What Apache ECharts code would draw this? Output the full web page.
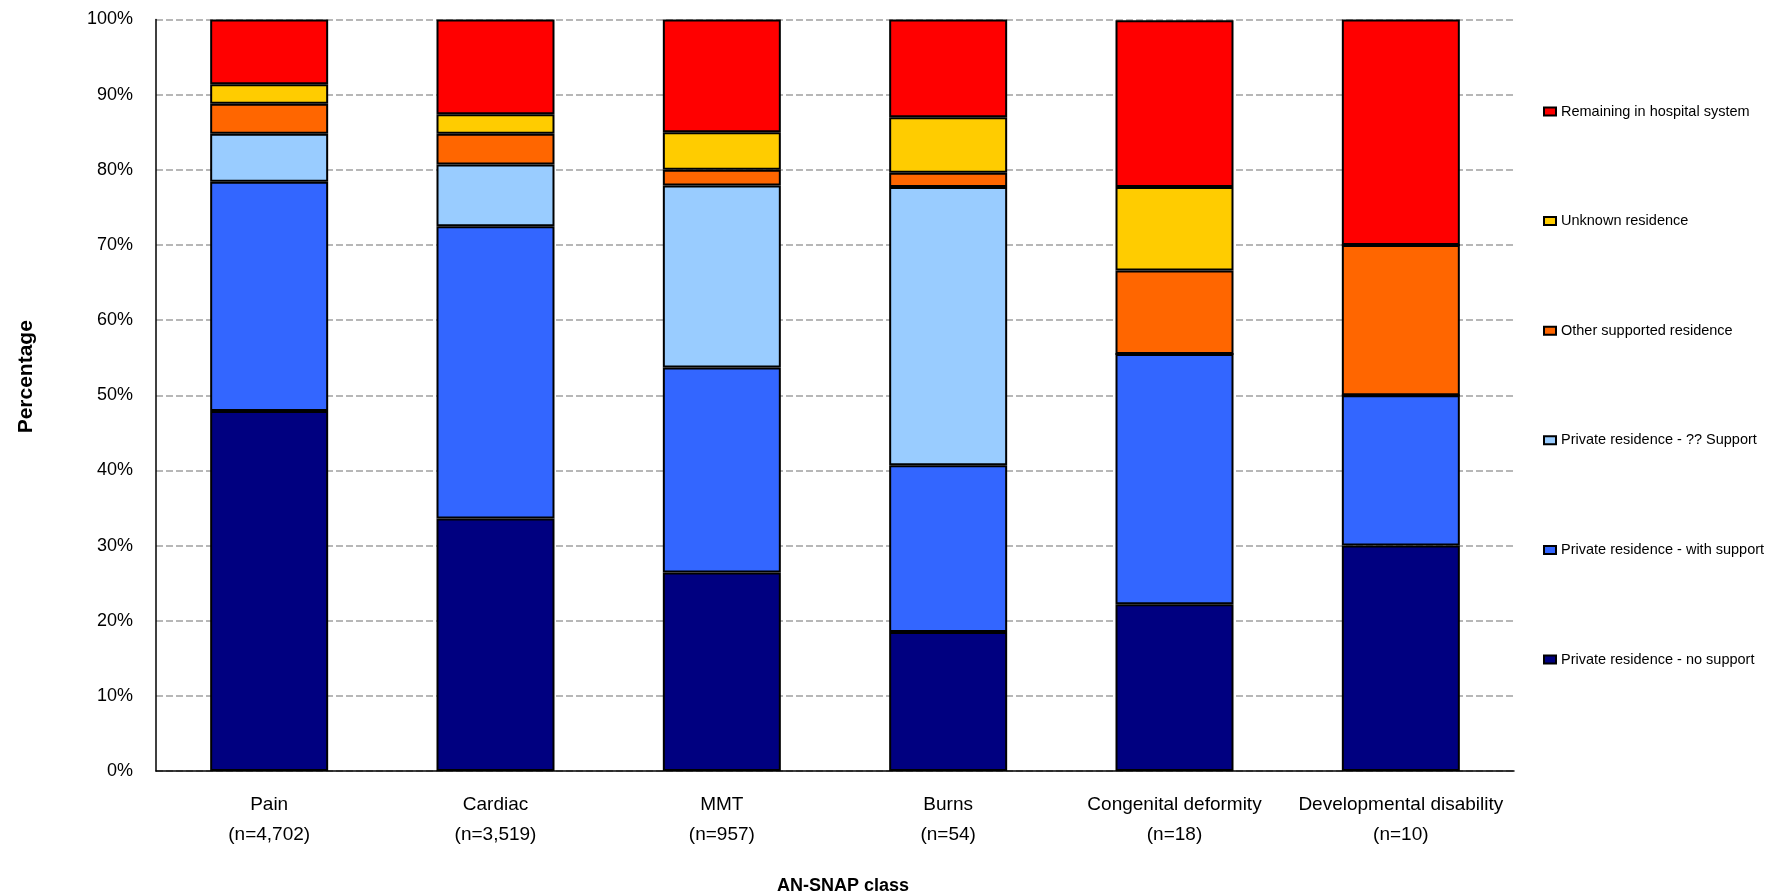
<!DOCTYPE html>
<html>
<head>
<meta charset="utf-8">
<script src="https://cdn.jsdelivr.net/npm/echarts@6/dist/echarts.min.js"></script>
<style>
html,body{margin:0;padding:0;background:#fff;}
#chart{width:1775px;height:896px;}
</style>
</head>
<body>
<div id="chart"></div>
<script>
const categories = ['Pain', 'Cardiac', 'MMT', 'Burns', 'Congenital deformity', 'Developmental disability'];
const sampleSizes = ['n=4,702', 'n=3,519', 'n=957', 'n=54', 'n=18', 'n=10'];
const yTicks = [0, 10, 20, 30, 40, 50, 60, 70, 80, 90, 100];

const seriesNames = [
  'Private residence - no support',
  'Private residence - with support',
  'Private residence - ?? Support',
  'Other supported residence',
  'Unknown residence',
  'Remaining in hospital system'
];
const noSupport     = [47.9, 33.6, 26.4, 18.5, 22.2, 30.0];
const withSupport   = [30.5, 38.9, 27.3, 22.2, 33.3, 20.0];
const unknownSupport= [6.4,  8.2,  24.2, 37.0, 0.0,  0.0];
const otherSupported= [4.0,  4.1,  2.1,  1.9,  11.1, 20.0];
const unknownRes    = [2.6,  2.6,  5.0,  7.4,  11.1, 0.0];
const remaining     = [8.6,  12.6, 15.0, 13.0, 22.2, 30.0];
const seriesValues = [noSupport, withSupport, unknownSupport, otherSupported, unknownRes, remaining];
const seriesColors = ['#000080', '#3366FF', '#99CCFF', '#FF6600', '#FFCC00', '#FF0000'];

const FONT = "'Liberation Sans', Arial, sans-serif";

const chart = echarts.init(document.getElementById('chart'));
const labels = categories.map((c, i) => c + '\n(' + sampleSizes[i] + ')');

chart.setOption({
  animation: false,
  backgroundColor: '#ffffff',
  grid: { left: 156, top: 19.5, width: 1358, height: 751.5, containLabel: false, outerBoundsMode: 'none' },
  legend: {
    orient: 'vertical',
    left: 1538,
    top: 96.5,
    itemWidth: 12,
    itemHeight: 8,
    itemGap: 89.6,
    icon: 'rect',
    data: seriesNames.slice().reverse(),
    textStyle: { fontFamily: FONT, fontSize: 14.5, color: '#000', lineHeight: 20 },
    selectedMode: false
  },
  xAxis: {
    type: 'category',
    data: labels,
    name: 'AN-SNAP class',
    nameLocation: 'middle',
    nameGap: 106,
    nameTextStyle: { fontFamily: FONT, fontSize: 18, fontWeight: 'bold', color: '#000', padding: [0, 0, 0, 16] },
    axisLine: { lineStyle: { color: '#000', width: 1.5 } },
    axisTick: { show: false },
    axisLabel: { fontFamily: FONT, fontSize: 19, color: '#000', lineHeight: 30, margin: 19, interval: 0 }
  },
  yAxis: {
    type: 'value',
    min: yTicks[0],
    max: yTicks[yTicks.length - 1],
    interval: yTicks[1] - yTicks[0],
    name: 'Percentage',
    nameLocation: 'middle',
    nameGap: 119,
    nameRotate: 90,
    nameTextStyle: { fontFamily: FONT, fontSize: 21, fontWeight: 'bold', color: '#000', padding: [0, 0, 0, 37] },
    axisLine: { show: true, lineStyle: { color: '#000', width: 1.5 } },
    axisTick: { show: false },
    axisLabel: { fontFamily: FONT, fontSize: 18, color: '#000', margin: 23, formatter: '{value}%' },
    splitLine: { show: true, lineStyle: { color: '#a0a0a0', width: 1.5, type: [7, 3] } }
  },
  series: seriesNames.map((name, i) => ({
    name: name,
    type: 'bar',
    stack: 'total',
    barWidth: 118,
    data: seriesValues[i],
    itemStyle: { color: seriesColors[i], borderColor: '#000', borderWidth: 2 },
    emphasis: { disabled: true }
  }))
});
</script>
</body>
</html>
